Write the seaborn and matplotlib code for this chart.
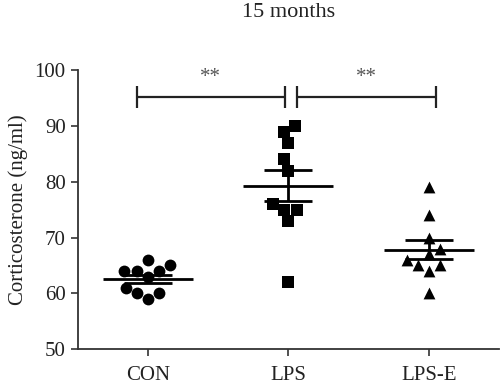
"""
Corticosterone at 15 months: scatter with mean +/- SEM
"""
import numpy as np
import pandas as pd
import seaborn as sns
from matplotlib import pyplot as plt

groups = ['CON', 'LPS', 'LPS-E']
con = [65, 63, 64, 61, 59, 60, 64, 60, 66, 64]
lps = [90, 89, 87, 84, 82, 76, 75, 75, 73, 62]
lps_e = [79, 74, 70, 68, 67, 65, 65, 66, 64, 60]
markers = ['o', 's', '^']
sig_pairs = [(0, 1, '**'), (1, 2, '**')]

df = pd.DataFrame({
    'group': ['CON'] * len(con) + ['LPS'] * len(lps) + ['LPS-E'] * len(lps_e),
    'value': con + lps + lps_e,
})

sns.set_style('ticks')
plt.rcParams['font.family'] = ['Liberation Serif', 'DejaVu Serif']

fig, ax = plt.subplots(figsize=(5, 3.9), dpi=100)
fig.subplots_adjust(left=0.155, right=0.998, top=0.82, bottom=0.105)

for i, g in enumerate(groups):
    sub = df[df['group'] == g]
    sns.swarmplot(data=sub, x='group', y='value', order=groups, marker=markers[i],
                  color='black', size=8.5, linewidth=0, ax=ax)

    # mean and SEM
    vals = sub['value'].to_numpy()
    m = vals.mean()
    sem = vals.std(ddof=1) / np.sqrt(len(vals))
    ax.hlines(m, i - 0.32, i + 0.32, color='black', lw=2, zorder=5)
    ax.hlines([m - sem, m + sem], i - 0.17, i + 0.17, color='black', lw=2, zorder=5)
    ax.vlines(i, m - sem, m + sem, color='black', lw=2, zorder=5)

# significance brackets
y_sig = 95.2
for a, b, label in sig_pairs:
    x0 = a - 0.08 if a == 0 else a + 0.065
    x1 = b - 0.025 if b == 1 else b + 0.055
    ax.hlines(y_sig, x0, x1, color='#222222', lw=1.6, clip_on=False)
    ax.vlines([x0, x1], y_sig - 2, y_sig + 2, color='#222222', lw=1.6, clip_on=False)
    ax.text((x0 + x1) / 2, y_sig + 1.8, label, ha='center', va='bottom',
            fontsize=15, color='#555555')

ax.set_xlim(-0.5, 2.5)
ax.set_ylim(50, 100)
ax.set_yticks(range(50, 101, 10))
ax.set_xlabel('')
ax.set_ylabel('Corticosterone (ng/ml)', fontsize=15, color='#222222', labelpad=5)
ax.set_title('15 months', fontsize=16, pad=38, color='#222222')
ax.tick_params(labelsize=15, colors='#333333', labelcolor='#222222',
               length=5, width=1.2)
ax.tick_params(axis='x', pad=7)
for side in ['top', 'right']:
    ax.spines[side].set_visible(False)
for side in ['left', 'bottom']:
    ax.spines[side].set_linewidth(1.3)
    ax.spines[side].set_color('#333333')

plt.savefig('out.png', dpi=100)
